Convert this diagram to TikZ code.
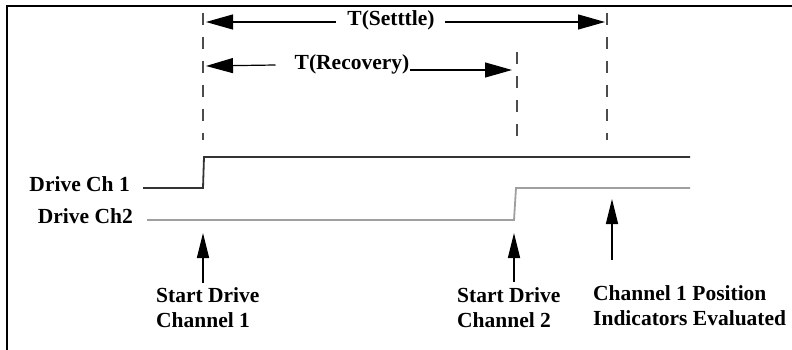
\documentclass[tikz,border=0pt]{standalone}
\usepackage{fontspec}
\setmainfont{Liberation Serif}
\usetikzlibrary{arrows.meta}

\begin{document}
\begin{tikzpicture}[
  x=1pt,y=-1pt,
  lbl/.style={font=\bfseries\fontsize{21.5}{25}\selectfont,inner sep=0pt},
  note/.style={lbl,align=left,anchor=north west},
  marker/.style={dash pattern=on 12pt off 12pt,gray!60!black,line width=1.3pt},
  span/.style={-{Triangle[length=27pt,width=15pt]},line width=1.2pt},
  trigger/.style={-{Triangle[length=25pt,width=12pt]},line width=1.4pt},
  signal/.style={line width=1.8pt,line join=miter}
]
  \useasboundingbox (0,0) rectangle (792,350);
  \draw[line width=2.5pt] (7,350) -- (7,6) -- (792,6);

  % time markers
  \coordinate (t0) at (206,22);
  \coordinate (t1) at (512,70);
  \coordinate (t2) at (605,22);
  \draw[marker] (203,13) -- (203,140);
  \draw[marker] (517,52) -- (517,140);
  \draw[marker] (607,13) -- (607,140);

  \node[lbl] (settle) at (391,20) {T(Setttle)};
  \node[lbl] (recov) at (352,64) {T(Recovery)};
  \draw[span] (settle.west) ++(-11,2) -- (t0);
  \draw[span] (settle.east) ++(10,2) -- (t2);
  \draw[span] (recov.west) ++(-19,1) -- (206,66);
  \draw[span] (recov.east) ++(0,6) -- (t1);

  % signals
  \node[lbl,anchor=east] (ch1) at (130,184) {Drive Ch 1};
  \node[lbl,anchor=east] (ch2) at (133,216) {Drive Ch2};
  \draw[signal,black!80] (143,188) -- (203,188) -- (204,157) -- (690,157);
  \draw[signal,gray!75] (147,220) -- (514,220) -- (516,188) -- (690,188);

  % events
  \node[note] (ev1) at (156,287) {Start Drive\\Channel 1};
  \node[note] (ev2) at (457,287) {Start Drive\\Channel 2};
  \node[note] (ev3) at (593,285) {Channel 1 Position\\Indicators Evaluated};
  \draw[trigger] (203,283) -- (203,233);
  \draw[trigger] (514,282) -- (514,233);
  \draw[trigger] (612,260) -- (612,199);
\end{tikzpicture}
\end{document}
